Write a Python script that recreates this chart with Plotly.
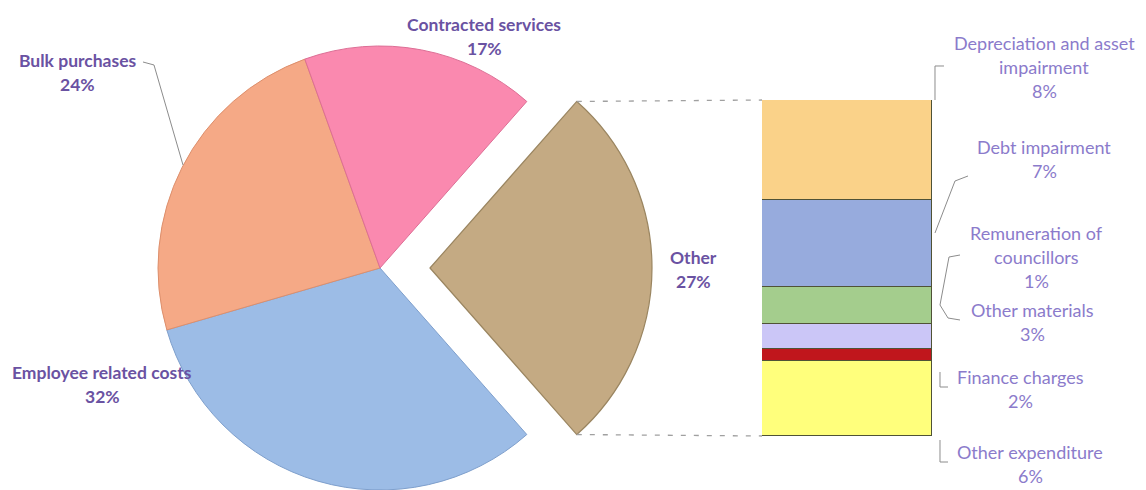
import math
import plotly.graph_objects as go

# ---- data -------------------------------------------------------------
pie_labels = ["Other", "Employee related costs", "Bulk purchases", "Contracted services"]
pie_values = [27, 32, 24, 17]
pie_colors = ["#C4AA83", "#9CBCE6", "#F5A986", "#FA89AF"]
pie_edges = ["#9A8560", "#7E9FCC", "#DD8F6C", "#DD6E95"]

# "Other" broken down, listed bottom -> top of the stacked column
bar_labels = ["Other expenditure", "Remuneration of councillors", "Finance charges",
              "Other materials", "Debt impairment", "Depreciation and asset impairment"]
bar_values = [6, 1, 2, 3, 7, 8]
bar_colors = ["#FFFF7C", "#C0161C", "#CBC6F7", "#A4CD8D", "#97ABDD", "#FAD289"]

# ---- layout constants (pixels) ----------------------------------------
W, H = 1146, 490
PIE_C = (380, 268)      # centre of the main pie
PIE_R = 222
EXPLODE = 50            # horizontal shift of the "Other" wedge
BAR_X = (762, 932)
BAR_Y = (100, 436)      # top, bottom

def px(x):
    return x / W

def py(y):
    return 1 - y / H

def pie_domain(cx, cy, r):
    return dict(x=[px(cx - r), px(cx + r)], y=[py(cy + r), py(cy - r)])

total = sum(pie_values)
rotation = 90 - pie_values[0] / total * 360 / 2   # centre "Other" on 3 o'clock

fig = go.Figure()

# main pie (the "Other" wedge left transparent)
fig.add_trace(go.Pie(
    labels=pie_labels, values=pie_values, sort=False, direction="clockwise",
    rotation=rotation, domain=pie_domain(*PIE_C, PIE_R),
    marker=dict(colors=["rgba(0,0,0,0)"] + pie_colors[1:],
                line=dict(color=["rgba(0,0,0,0)"] + pie_edges[1:], width=[0, 1, 1, 1])),
    textinfo="none", hoverinfo="skip", showlegend=False,
))
# exploded "Other" wedge
fig.add_trace(go.Pie(
    labels=pie_labels, values=pie_values, sort=False, direction="clockwise",
    rotation=rotation, domain=pie_domain(PIE_C[0] + EXPLODE, PIE_C[1], PIE_R),
    marker=dict(colors=[pie_colors[0]] + ["rgba(0,0,0,0)"] * 3,
                line=dict(color=[pie_edges[0]] + ["rgba(0,0,0,0)"] * 3, width=[1.2, 0, 0, 0])),
    textinfo="none", hoverinfo="skip", showlegend=False,
))

# stacked column of the "Other" components
for lab, val, col in zip(bar_labels, bar_values, bar_colors):
    fig.add_trace(go.Bar(
        x=[0], y=[val], name=lab, width=1, marker=dict(color=col, line=dict(color="#4F5236", width=1)),
        xaxis="x2", yaxis="y2", hoverinfo="skip", showlegend=False,
    ))

# ---- connector lines between wedge and column ----------------------------
half = math.radians(pie_values[0] / total * 360 / 2)
tip_x = PIE_C[0] + EXPLODE + PIE_R * math.cos(half)
tip_dy = PIE_R * math.sin(half)
shapes = []
for tip_y, bar_y in [(PIE_C[1] - tip_dy, BAR_Y[0]), (PIE_C[1] + tip_dy, BAR_Y[1])]:
    shapes.append(dict(type="line", xref="paper", yref="paper",
                       x0=px(tip_x), y0=py(tip_y), x1=px(BAR_X[0]), y1=py(bar_y),
                       line=dict(color="#A0A0A0", width=1.3, dash="5px,8px")))

# leader lines for the data labels
leaders = [
    [(143, 62), (154, 65), (183, 165)],
    [(935, 100), (935, 66), (944, 66)],
    [(935, 233), (955, 181), (968, 176)],
    [(960, 255), (949, 257), (940, 305)],
    [(940, 305), (948, 318), (960, 320)],
    [(940, 372), (940, 387), (948, 387)],
    [(940, 440), (940, 462), (948, 462)],
]
for pts in leaders:
    path = "M " + " L ".join(f"{px(x):.5f},{py(y):.5f}" for x, y in pts)
    shapes.append(dict(type="path", xref="paper", yref="paper", path=path,
                       line=dict(color="#8C8C8C", width=1)))

# ---- data labels ------------------------------------------------------
LEFT_FONT = dict(family="Lato, 'Open Sans', sans-serif", size=17.5, color="#6A52A2")
RIGHT_FONT = dict(family="Lato, 'Open Sans', sans-serif", size=18, color="#8B7BCB")
LINE = 24

annotations = []

def label(lines, cx, y_top, font, bold=False):
    for i, t in enumerate(lines):
        txt = f"<b>{t}</b>" if bold else t
        annotations.append(dict(text=txt, x=px(cx), y=py(y_top + i * LINE), xref="paper", yref="paper",
                                xanchor="center", yanchor="middle", showarrow=False, font=font))

pie_pos = {
    "Other": (693, 257),
    "Employee related costs": (102, 372),
    "Bulk purchases": (77, 60),
    "Contracted services": (484, 25),
}
for lab, val in zip(pie_labels, pie_values):
    cx, cy = pie_pos[lab]
    label([lab, f"{val}%"], cx, cy, LEFT_FONT, bold=True)

bar_pos = {
    "Depreciation and asset impairment": ((1044, 43), ["Depreciation and asset", "impairment"]),
    "Debt impairment": ((1044, 147), ["Debt impairment"]),
    "Remuneration of councillors": ((1036, 233), ["Remuneration of", "councillors"]),
    "Other materials": ((1032, 310), ["Other materials"]),
    "Finance charges": ((1020, 377), ["Finance charges"]),
    "Other expenditure": ((1030, 452), ["Other expenditure"]),
}
for lab, val in zip(bar_labels, bar_values):
    (cx, cy), lines = bar_pos[lab]
    label(lines + [f"{val}%"], cx, cy, RIGHT_FONT)

fig.update_layout(
    width=W, height=H, margin=dict(l=0, r=0, t=0, b=0),
    paper_bgcolor="white", plot_bgcolor="white",
    barmode="stack", bargap=0,
    xaxis2=dict(domain=[px(BAR_X[0]), px(BAR_X[1])], range=[-0.5, 0.5], visible=False, anchor="y2"),
    yaxis2=dict(domain=[py(BAR_Y[1]), py(BAR_Y[0])], range=[0, sum(bar_values)], visible=False, anchor="x2"),
    shapes=shapes, annotations=annotations,
)

fig.write_html("out.html")
